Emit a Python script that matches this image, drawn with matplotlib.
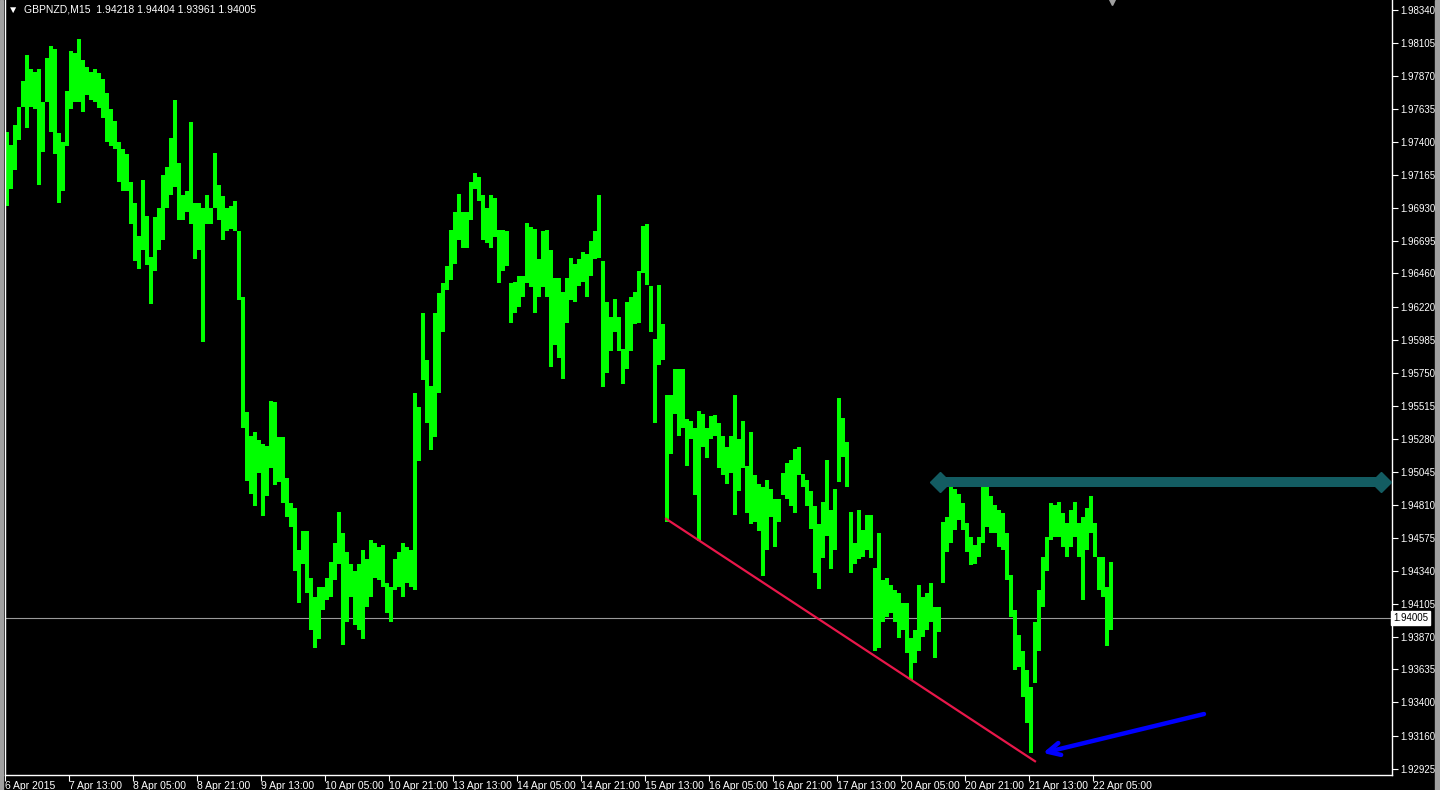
import numpy as np
import matplotlib
matplotlib.use('Agg')
import matplotlib.pyplot as plt
from matplotlib.patches import Rectangle

plt.rcParams['font.family'] = ['Liberation Sans', 'DejaVu Sans']

highs = [
    1.9747, 1.9738, 1.9752, 1.9765, 1.9783, 1.9802, 1.9792, 1.9790, 1.9792, 1.9768,
    1.9800, 1.9808, 1.9806, 1.9746, 1.9740, 1.9776, 1.9805, 1.9803, 1.9813, 1.9798,
    1.9793, 1.9790, 1.9792, 1.9789, 1.9785, 1.9775, 1.9763, 1.9755, 1.9740, 1.9735,
    1.9731, 1.9711, 1.9696, 1.9673, 1.9713, 1.9687, 1.9658, 1.9686, 1.9693, 1.9716,
    1.9722, 1.9743, 1.9770, 1.9725, 1.9702, 1.9705, 1.9754, 1.9696, 1.9696, 1.9693,
    1.9702, 1.9693, 1.9732, 1.9709, 1.9701, 1.9693, 1.9694, 1.9698, 1.9676, 1.9629,
    1.9547, 1.9530, 1.9533, 1.9527, 1.9524, 1.9523, 1.9555, 1.9554, 1.9529, 1.9529,
    1.9500, 1.9482, 1.9479, 1.9449, 1.9462, 1.9462, 1.9429, 1.9415, 1.9422, 1.9422,
    1.9429, 1.9440, 1.9454, 1.9476, 1.9461, 1.9447, 1.9439, 1.9434, 1.9439, 1.9449,
    1.9442, 1.9456, 1.9454, 1.9451, 1.9452, 1.9425, 1.9422, 1.9442, 1.9447, 1.9454,
    1.9451, 1.9449, 1.9561, 1.9551, 1.9618, 1.9584, 1.9566, 1.9618, 1.9632, 1.9639,
    1.9651, 1.9677, 1.9690, 1.9703, 1.9690, 1.9690, 1.9711, 1.9718, 1.9715, 1.9702,
    1.9693, 1.9702, 1.9700, 1.9677, 1.9677, 1.9676, 1.9639, 1.9640, 1.9644, 1.9644,
    1.9682, 1.9679, 1.9678, 1.9656, 1.9676, 1.9677, 1.9663, 1.9643, 1.9643, 1.9633,
    1.9643, 1.9657, 1.9653, 1.9656, 1.9661, 1.9660, 1.9669, 1.9676, 1.9702, 1.9655,
    1.9626, 1.9615, 1.9628, 1.9615, 1.9592, 1.9626, 1.9629, 1.9633, 1.9648, 1.9680,
    1.9681, 1.9637, 1.9599, 1.9638, 1.9610, 1.9559, 1.9559, 1.9578, 1.9578, 1.9578,
    1.9542, 1.9541, 1.9536, 1.9548, 1.9546, 1.9536, 1.9544, 1.9545, 1.9539, 1.9530,
    1.9522, 1.9530, 1.9559, 1.9528, 1.9541, 1.9509, 1.9533, 1.9502, 1.9496, 1.9494,
    1.9499, 1.9492, 1.9485, 1.9485, 1.9504, 1.9511, 1.9513, 1.9521, 1.9522, 1.9503,
    1.9499, 1.9491, 1.9480, 1.9467, 1.9483, 1.9513, 1.9477, 1.9492, 1.9557, 1.9543,
    1.9526, 1.9476, 1.9454, 1.9477, 1.9463, 1.9474, 1.9474, 1.9436, 1.9461, 1.9427,
    1.9429, 1.9424, 1.9420, 1.9418, 1.9411, 1.9411, 1.9386, 1.9392, 1.9424, 1.9415,
    1.9418, 1.9425, 1.9408, 1.9408, 1.9469, 1.9472, 1.9494, 1.9492, 1.9489, 1.9482,
    1.9468, 1.9458, 1.9452, 1.9458, 1.9494, 1.9494, 1.9487, 1.9481, 1.9477, 1.9475,
    1.9461, 1.9431, 1.9406, 1.9388, 1.9377, 1.9363, 1.9351, 1.9397, 1.9420, 1.9444,
    1.9458, 1.9482, 1.9481, 1.9483, 1.9475, 1.9468, 1.9477, 1.9483, 1.9468, 1.9472,
    1.9479, 1.9487, 1.9468, 1.9444, 1.9444, 1.9422, 1.9440,
]
lows = [
    1.9694, 1.9706, 1.9720, 1.9741, 1.9765, 1.9750, 1.9765, 1.9763, 1.9709, 1.9733,
    1.9768, 1.9747, 1.9731, 1.9696, 1.9705, 1.9737, 1.9763, 1.9768, 1.9768, 1.9761,
    1.9773, 1.9770, 1.9768, 1.9764, 1.9757, 1.9740, 1.9737, 1.9735, 1.9711, 1.9705,
    1.9705, 1.9681, 1.9655, 1.9649, 1.9663, 1.9652, 1.9624, 1.9648, 1.9663, 1.9670,
    1.9693, 1.9702, 1.9708, 1.9684, 1.9684, 1.9690, 1.9681, 1.9656, 1.9663, 1.9597,
    1.9681, 1.9681, 1.9693, 1.9684, 1.9670, 1.9676, 1.9678, 1.9676, 1.9627, 1.9536,
    1.9498, 1.9489, 1.9480, 1.9504, 1.9473, 1.9487, 1.9507, 1.9495, 1.9497, 1.9482,
    1.9472, 1.9465, 1.9434, 1.9411, 1.9439, 1.9418, 1.9392, 1.9379, 1.9385, 1.9406,
    1.9413, 1.9415, 1.9427, 1.9439, 1.9381, 1.9397, 1.9415, 1.9395, 1.9392, 1.9385,
    1.9408, 1.9415, 1.9429, 1.9427, 1.9422, 1.9404, 1.9397, 1.9420, 1.9422, 1.9415,
    1.9425, 1.9422, 1.9420, 1.9512, 1.9570, 1.9539, 1.9520, 1.9529, 1.9561, 1.9604,
    1.9634, 1.9641, 1.9653, 1.9670, 1.9664, 1.9664, 1.9684, 1.9706, 1.9698, 1.9670,
    1.9668, 1.9664, 1.9672, 1.9639, 1.9648, 1.9651, 1.9611, 1.9618, 1.9622, 1.9629,
    1.9639, 1.9636, 1.9618, 1.9629, 1.9636, 1.9629, 1.9579, 1.9595, 1.9586, 1.9571,
    1.9611, 1.9627, 1.9626, 1.9637, 1.9640, 1.9629, 1.9644, 1.9656, 1.9657, 1.9565,
    1.9575, 1.9591, 1.9604, 1.9591, 1.9567, 1.9578, 1.9591, 1.9610, 1.9611, 1.9646,
    1.9638, 1.9604, 1.9539, 1.9581, 1.9584, 1.9469, 1.9517, 1.9546, 1.9530, 1.9536,
    1.9509, 1.9528, 1.9488, 1.9455, 1.9522, 1.9514, 1.9528, 1.9530, 1.9507, 1.9502,
    1.9496, 1.9504, 1.9474, 1.9491, 1.9507, 1.9475, 1.9467, 1.9469, 1.9462, 1.9430,
    1.9449, 1.9472, 1.9451, 1.9469, 1.9488, 1.9485, 1.9480, 1.9475, 1.9502, 1.9494,
    1.9480, 1.9464, 1.9432, 1.9421, 1.9443, 1.9459, 1.9435, 1.9449, 1.9497, 1.9515,
    1.9494, 1.9432, 1.9439, 1.9442, 1.9444, 1.9449, 1.9443, 1.9377, 1.9379, 1.9397,
    1.9401, 1.9404, 1.9397, 1.9386, 1.9392, 1.9375, 1.9356, 1.9368, 1.9377, 1.9387,
    1.9392, 1.9397, 1.9372, 1.9390, 1.9425, 1.9447, 1.9454, 1.9463, 1.9470, 1.9463,
    1.9447, 1.9438, 1.9439, 1.9444, 1.9454, 1.9465, 1.9461, 1.9461, 1.9451, 1.9449,
    1.9427, 1.9401, 1.9363, 1.9365, 1.9344, 1.9325, 1.9304, 1.9354, 1.9377, 1.9408,
    1.9434, 1.9456, 1.9458, 1.9458, 1.9451, 1.9444, 1.9451, 1.9458, 1.9444, 1.9413,
    1.9449, 1.9461, 1.9444, 1.9420, 1.9415, 1.9380, 1.9392,
]

bars_per_entry = 4          # M15 bars in one hourly entry
label_step = 64             # MT4 puts a time label every 64 bars (16 hours)
time_labels = ['6 Apr 2015', '7 Apr 13:00', '8 Apr 05:00', '8 Apr 21:00', '9 Apr 13:00',
               '10 Apr 05:00', '10 Apr 21:00', '13 Apr 13:00', '14 Apr 05:00', '14 Apr 21:00',
               '15 Apr 13:00', '16 Apr 05:00', '16 Apr 21:00', '17 Apr 13:00', '20 Apr 05:00',
               '20 Apr 21:00', '21 Apr 13:00', '22 Apr 05:00']
price_ticks = [1.98340, 1.98105, 1.97870, 1.97635, 1.97400, 1.97165, 1.96930, 1.96695,
               1.96460, 1.96220, 1.95985, 1.95750, 1.95515, 1.95280, 1.95045, 1.94810,
               1.94575, 1.94340, 1.94105, 1.93870, 1.93635, 1.93400, 1.93160, 1.92925]

header = '\u25BC  GBPNZD,M15  1.94218 1.94404 1.93961 1.94005'
last_price = 1.94005

# drawn objects (bar index, price)
trend_line = ([661, 1030], [1.9471, 1.9298])
resistance = ([935, 1376], [1.9497, 1.9497])
arrow_tail = (1199, 1.93317)
arrow_tip = (1038, 1.93039)

ymin, ymax = 1.92882, 1.98411
xmax = 1387
fs = 7.5

fig = plt.figure(figsize=(14.4, 7.9), dpi=100, facecolor='black')
ax = fig.add_axes([5 / 1440, 15 / 790, 1387 / 1440, 775 / 790])
ax.set_facecolor('black')

# window borders
fig.patches.append(Rectangle((0, 0), 3 / 1440, 1, transform=fig.transFigure,
                             color='#a0a0a0', zorder=0))
fig.patches.append(Rectangle((1435 / 1440, 0), 5 / 1440, 1, transform=fig.transFigure,
                             color='#a0a0a0', zorder=0))

hi = np.array(highs)
lo = np.array(lows)
pos = np.arange(len(hi)) * bars_per_entry + bars_per_entry / 2
ax.bar(pos, hi - lo, bottom=lo, width=bars_per_entry, color='#00ff00', linewidth=0, zorder=2)

ax.axhline(last_price, color='#9a9a9a', lw=0.8, zorder=1)

ax.plot(trend_line[0], trend_line[1], color='#e8174a', lw=1.6, zorder=3)
ax.plot(resistance[0], resistance[1], color='#135c62', lw=7.2, solid_capstyle='butt', zorder=3)
ax.plot(resistance[0], resistance[1], 'D', color='#135c62', markersize=10, zorder=3)

ax.annotate('', xy=arrow_tip, xytext=arrow_tail,
            arrowprops=dict(arrowstyle='->', color='#0000ff', lw=3.2, mutation_scale=22,
                            shrinkA=0, shrinkB=0), zorder=4)

ax.set_xlim(0, xmax)
ax.set_ylim(ymin, ymax)

for side in ['left', 'bottom', 'right']:
    ax.spines[side].set_color('white')
    ax.spines[side].set_linewidth(1)
ax.spines['top'].set_visible(False)

ax.yaxis.tick_right()
ax.set_yticks(price_ticks)
ax.set_yticklabels(['%.5f' % p for p in price_ticks])
ax.tick_params(axis='y', colors='white', length=4, width=0.8, pad=2, labelsize=7)

ax.set_xticks([i * label_step for i in range(len(time_labels))])
ax.set_xticklabels(time_labels, ha='left')
ax.tick_params(axis='x', colors='white', length=4, width=0.8, pad=0, labelsize=fs)

ax.text(1.0008, last_price, '%.5f' % last_price, transform=ax.get_yaxis_transform(),
        fontsize=7, color='black', va='center', ha='left',
        bbox=dict(boxstyle='square,pad=0.2', facecolor='white', edgecolor='white'))

ax.plot([1107], [ymax], 'v', color='#a0a0a0', markersize=7, clip_on=False)

fig.text(8 / 1440, 1 - 9 / 790, header, color='white', fontsize=fs, va='center', ha='left')

fig.savefig('out.png', dpi=100, facecolor='black')
